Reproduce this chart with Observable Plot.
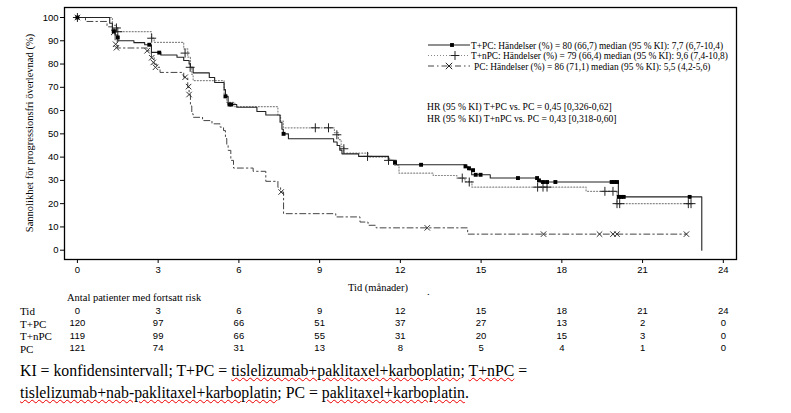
<!DOCTYPE html>
<html><head><meta charset="utf-8">
<script src="https://cdn.jsdelivr.net/npm/d3@7"></script>
<script src="https://cdn.jsdelivr.net/npm/@observablehq/plot@0.6"></script>
<style>
body{margin:0;background:#fff;}
#cap{font-family:"Liberation Serif",serif;font-size:15.8px;line-height:22px;padding-left:20px;color:#000;white-space:nowrap;}
.sp{text-decoration:underline wavy #e00;text-decoration-thickness:1px;}
</style></head><body>
<div id="chart"></div>
<div id="cap">KI = konfidensintervall; T+PC = <span class="sp">tislelizumab+paklitaxel+karboplatin</span>; <span class="sp">T+nPC</span> =<br><span class="sp">tislelizumab+nab-paklitaxel+karboplatin</span>; PC = <span class="sp">paklitaxel+karboplatin</span>.</div>
<script>
// ---- data ----
const xTicks = [0,3,6,9,12,15,18,21,24];
const yTicks = [0,10,20,30,40,50,60,70,80,90,100];

const tpcTime = [0,1.2,1.3,1.4,1.5,2.1,2.5,2.75,3.1,3.7,3.95,4.15,4.2,4.3,4.9,5.1,5.45,5.5,5.6,5.92,6.67,7.0,7.53,7.6,7.65,7.84,9.52,9.65,9.75,9.83,10.45,11.55,11.85,14.45,14.55,14.65,15.34,17.1,17.2,20.1,23.2];
const tpcSurv = [100,97.5,95,92.5,90,89.2,88.3,85,83.9,82.9,81.5,80,78.6,76.2,74.2,72.1,69,66.1,62.6,61.4,59.6,58.1,55,52,50,47.9,46.5,45,43,41.4,40.3,38.6,36.7,35.7,34.6,32.4,31,30,29.3,22.9,0];
const tpcCensT = [0,1.35,1.5,2.67,3.04,5.5,5.65,5.72,7.66,11.8,12.77,14.42,14.55,14.7,14.8,14.98,16.37,17.08,17.15,17.3,17.45,17.76,19.85,19.95,20.05,20.12,20.2,20.3,22.75];
const tpcCensS = [100,94,91.4,88.3,84.9,66.1,62.6,62.6,50,37.6,36.7,36,35.2,34.4,32.4,32.4,31,31,30,29.3,29.3,29.3,29.3,29.3,29.3,22.9,22.9,22.9,22.9];

const tnpcTime = [0,1.3,1.45,2.75,2.85,3.95,4.1,4.2,4.25,4.3,5.45,5.55,5.85,7.45,7.55,7.65,9.55,9.7,9.8,9.9,10.8,11.6,11.75,11.95,13.22,14.1,14.4,14.66,18.9,20.05,22.8];
const tnpcSurv = [100,96.6,93.9,91.1,89.3,86.5,83,78.6,75.5,72.9,67,63.5,61.7,58,55.5,52.6,50.5,47.5,44.5,41.7,40,38.6,36.5,33.1,32.1,31,29.5,27.1,25.3,20,20];
const tnpcCensT = [0,1.45,1.5,2.76,4.0,4.19,8.84,9.33,9.64,9.9,10.78,11.56,14.3,14.56,17.1,17.3,17.45,19.6,19.9,20.05,20.15,22.7,22.8];
const tnpcCensS = [100,95.5,93.9,91.1,84.7,78.6,52.6,52.6,49.6,43.6,40.3,38.6,31,29.3,27.1,27.1,27.1,25.3,25.3,20,20,20,20];

const pcTime = [0,0.3,1.1,1.3,1.4,1.48,2.6,2.75,2.85,2.95,3.07,3.95,4.1,4.15,4.2,4.25,4.3,4.65,5.0,5.3,5.43,5.5,5.55,5.6,5.7,5.8,6.53,7.0,7.45,7.55,7.66,9.6,10.5,10.8,11.1,14.5,22.63];
const pcSurv = [100,98.3,96,93.6,90,86.9,85.7,82.7,80,78.6,76.4,74.3,70,66.9,62,58.6,57.1,55.7,54.3,52.9,51.4,48,45,42.9,38.6,35.3,33.9,29.6,27,25,15.7,14.3,12.1,10.7,9.6,6.9,6.9];
const pcCensT = [0,1.35,1.42,1.45,2.59,2.76,2.82,2.9,4.0,4.13,4.15,7.57,13.0,17.32,19.4,19.9,20.05,22.63];
const pcCensS = [100,93.6,88.5,87,85.7,82.7,80.7,78.6,74.3,70.3,66.9,25,9.6,6.9,6.9,6.9,6.9,6.9];

const riskTimes = [0,3,6,9,12,15,18,21,24];
const riskTPC = [120,97,66,51,37,27,13,2,0];
const riskTnPC = [119,99,66,55,31,20,15,3,0];
const riskPC = [121,74,31,13,8,5,4,1,0];

const legendTexts = [
  "T+PC: Händelser (%) = 80 (66,7) median (95 % KI): 7,7 (6,7-10,4)",
  "T+nPC: Händelser (%) = 79 (66,4) median (95 % KI): 9,6 (7,4-10,8)",
  "PC: Händelser (%) = 86 (71,1) median (95 % KI): 5,5 (4,2-5,6)"
];
const hrTexts = [
  "HR (95 % KI) T+PC vs. PC = 0,45 [0,326-0,62]",
  "HR (95 % KI) T+nPC vs. PC = 0,43 [0,318-0,60]"
];

// ---- build tables ----
const zip = (a,b) => a.map((t,i)=>({t, s:b[i]}));
const tpc = zip(tpcTime,tpcSurv), tnpc = zip(tnpcTime,tnpcSurv), pc = zip(pcTime,pcSurv);
const tpcC = zip(tpcCensT,tpcCensS), tnpcC = zip(tnpcCensT,tnpcCensS), pcC = zip(pcCensT,pcCensS);
const rowData = arr => riskTimes.map((t,i)=>({t, n:String(arr[i])}));

const serif = "'Liberation Serif', 'Times New Roman', serif";
const sans = "'Liberation Sans', Arial, sans-serif";

const C_TPC = "#222", C_TNPC = "#888", C_PC = "#444";
const DASH_TNPC = "1,2", DASH_PC = "6,3,1.5,3";

const svg = Plot.plot({
  width: 791, height: 360,
  marginLeft: 64, marginRight: 55, marginTop: 7, marginBottom: 101,
  x: {domain: [-0.48, 24.49]},
  y: {domain: [-4, 104.3]},
  style: {fontFamily: sans, fontSize: "9.5px", color: "#000", background: "#fff", overflow: "visible"},
  marks: [
    Plot.axisX({ticks: xTicks, tickSize: 4, tickPadding: 3, label: null, tickFormat: d => d, strokeWidth: 1}),
    Plot.axisY({ticks: yTicks, tickSize: 4, tickPadding: 2, label: null, strokeWidth: 1}),
    Plot.line(pc, {x: "t", y: "s", curve: "step-after", stroke: C_PC, strokeWidth: 1, strokeDasharray: DASH_PC}),
    Plot.line(tnpc, {x: "t", y: "s", curve: "step-after", stroke: C_TNPC, strokeWidth: 1.2, strokeDasharray: DASH_TNPC}),
    Plot.line(tpc, {x: "t", y: "s", curve: "step-after", stroke: C_TPC, strokeWidth: 1.1}),
    Plot.dot(pcC, {x: "t", y: "s", symbol: "times", r: 2.6, stroke: "#333", strokeWidth: 1}),
    Plot.dot(tnpcC, {x: "t", y: "s", symbol: "plus", r: 3, stroke: "#222", strokeWidth: 1}),
    Plot.dot(tpcC, {x: "t", y: "s", symbol: "square", r: 2.2, fill: "#000", stroke: "none"}),
    Plot.frame({stroke: "#000", strokeWidth: 1.3}),
    Plot.text(rowData(riskTimes), {x: "t", text: "n", frameAnchor: "bottom", dy: 54, fontSize: 9.5}),
    Plot.text(rowData(riskTPC), {x: "t", text: "n", frameAnchor: "bottom", dy: 66.5, fontSize: 9.5}),
    Plot.text(rowData(riskTnPC), {x: "t", text: "n", frameAnchor: "bottom", dy: 79, fontSize: 9.5}),
    Plot.text(rowData(riskPC), {x: "t", text: "n", frameAnchor: "bottom", dy: 91.5, fontSize: 9.5})
  ]
});
document.getElementById("chart").appendChild(svg);

// ---- annotations (pixel layout) ----
const g = d3.select(svg).append("g");
function label(x, y, txt, size, anchor) {
  return g.append("text").attr("x", x).attr("y", y)
    .attr("font-family", serif).style("font-family", serif).style("font-size", size + "px")
    .style("text-anchor", anchor || "start").style("fill", "#000").text(txt);
}
// y label
label(0, 0, "Sannolikhet för progressionsfri överlevnad (%)", 10.5, "middle")
  .attr("transform", "translate(33,133) rotate(-90)");
// x label
label(378, 291, "Tid (månader)", 10.5, "middle");
label(427, 295, ".", 10.5);
label(67, 301, "Antal patienter med fortsatt risk", 10.5);
["Tid","T+PC","T+nPC","PC"].forEach((lab,i)=> label(20, 315 + i*12.7, lab, 11));
// legend
const ly = [45, 55.5, 66];
const styles = [
  {stroke: C_TPC, dash: null, sym: d3.symbolSquare, mx: 452},
  {stroke: C_TNPC, dash: DASH_TNPC, sym: d3.symbolPlus, mx: 455},
  {stroke: C_PC, dash: DASH_PC, sym: d3.symbolTimes, mx: 449}
];
legendTexts.forEach((txt,i)=>{
  const s = styles[i];
  const ln = g.append("line").attr("x1", 428).attr("x2", 470).attr("y1", ly[i]).attr("y2", ly[i])
    .attr("stroke", s.stroke).attr("stroke-width", 1.1);
  if (s.dash) ln.attr("stroke-dasharray", s.dash);
  const p = g.append("path").attr("transform", `translate(${s.mx},${ly[i]})`)
    .attr("d", d3.symbol(s.sym, i===0 ? 15 : 28)());
  if (i===0) p.attr("fill", "#000"); else p.attr("fill", "none").attr("stroke", "#222").attr("stroke-width", 1);
  label(i===2 ? 474 : 471, ly[i] + 3.5, txt, 9.35);
});
hrTexts.forEach((txt,i)=> label(427, 109.5 + i*12, txt, 9.6));
</script>
</body></html>
